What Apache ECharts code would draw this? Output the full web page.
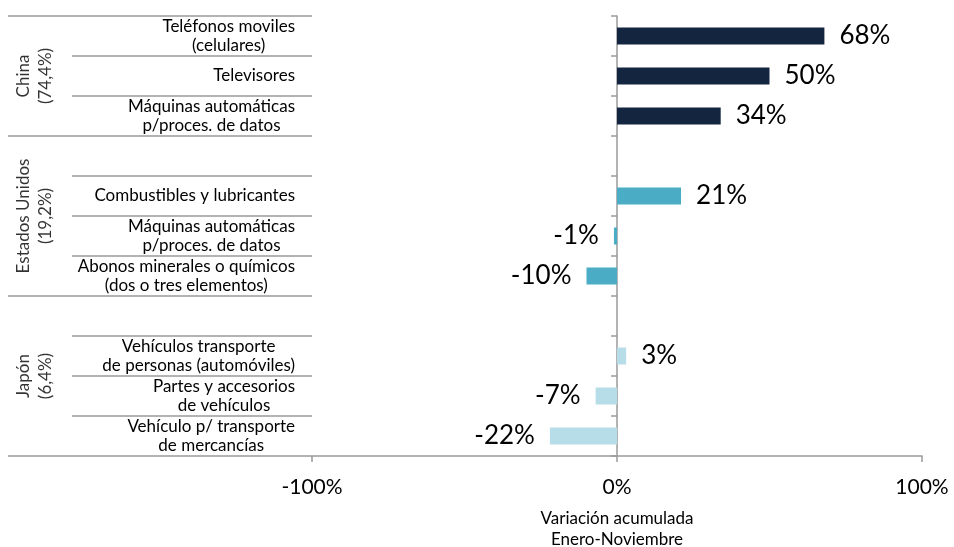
<!DOCTYPE html>
<html>
<head>
<meta charset="utf-8">
<script src="https://cdn.jsdelivr.net/npm/echarts@6/dist/echarts.min.js"></script>
<style>
  html, body { margin: 0; padding: 0; background: #fff; }
  #chart { width: 954px; height: 547px; }
</style>
</head>
<body>
<div id="chart"></div>
<script>
// ---- data ----
var categories = [
  "Teléfonos moviles\n(celulares)",
  "Televisores",
  "Máquinas automáticas\np/proces. de datos",
  "",
  "Combustibles y lubricantes",
  "Máquinas automáticas\np/proces. de datos",
  "Abonos minerales o químicos\n(dos o tres elementos)",
  "",
  "Vehículos transporte\nde personas (automóviles)",
  "Partes y accesorios\nde vehículos",
  "Vehículo p/ transporte\nde mercancías"
];
var groupNames = ["China\n(74,4%)", "Estados Unidos\n(19,2%)", "Japón\n(6,4%)"];
var groupSizes = [3, 4, 4];
var chinaValues = [68, 50, 34];
var usValues = [null, 21, -1, -10];
var japanValues = [null, 3, -7, -22];
var groupColors = ["#14263F", "#4BACC6", "#B7DDE8"];
var xTicks = [-100, 0, 100];

var FONT = "Lato, 'DejaVu Sans', sans-serif";
var LINE = "#9a9a9a";

// ---- build series data ----
var groupValues = [chinaValues, usValues, japanValues];
var barData = [];
groupValues.forEach(function (vals, g) {
  vals.forEach(function (v) {
    if (v === null) { barData.push('-'); return; }
    barData.push({
      value: v,
      itemStyle: { color: groupColors[g] },
      label: { position: v >= 0 ? 'right' : 'left' }
    });
  });
});

// group boundaries and centres (in row units)
var bounds = [0];
groupSizes.forEach(function (s) { bounds.push(bounds[bounds.length - 1] + s); });
var groupPoints = groupNames.map(function (n, i) {
  return { value: [0.41, (bounds[i] + bounds[i + 1]) / 2], name: n };
});
var nRows = categories.length;

var chart = echarts.init(document.getElementById('chart'), null, { renderer: 'canvas' });
chart.setOption({
  animation: false,
  textStyle: { fontFamily: FONT },
  grid: [
    { left: 312, width: 610, top: 16, height: 440, outerBoundsMode: 'none', containLabel: false },
    { left: 72, width: 240, top: 16, height: 440, outerBoundsMode: 'none', containLabel: false },
    { left: 8, width: 64, top: 16, height: 440, outerBoundsMode: 'none', containLabel: false }
  ],
  xAxis: [
    {
      gridIndex: 0, type: 'value', min: xTicks[0], max: xTicks[xTicks.length - 1], interval: 100,
      axisLine: { show: true, onZero: false, lineStyle: { color: LINE, width: 1.5 } },
      axisTick: { show: true, inside: false, length: 6, lineStyle: { color: LINE, width: 1.5 } },
      splitLine: { show: false },
      axisLabel: { formatter: '{value}%', fontSize: 21, color: '#000', margin: 21, fontFamily: FONT },
      name: 'Variación acumulada\nEnero-Noviembre',
      nameLocation: 'middle', nameGap: 52,
      nameTextStyle: { fontSize: 17, lineHeight: 21, color: '#000', fontFamily: FONT }
    },
    { gridIndex: 1, type: 'value', min: 0, max: 1, show: false },
    { gridIndex: 2, type: 'value', min: 0, max: 1, show: false }
  ],
  yAxis: [
    {
      gridIndex: 0, type: 'category', inverse: true, data: categories,
      axisLine: { show: true, onZero: true, lineStyle: { color: LINE, width: 1.5 } },
      axisTick: { show: true, inside: false, length: 6, lineStyle: { color: LINE, width: 1.5 } },
      axisLabel: { show: false },
      splitLine: { show: false }
    },
    {
      gridIndex: 0, type: 'category', inverse: true, data: categories, position: 'left',
      axisLine: { show: false, onZero: false },
      axisTick: { show: false },
      splitLine: { show: false },
      axisLabel: {
        show: true, interval: 0, margin: 17, align: 'right',
        formatter: function (val, idx) {
          var s = categories[idx];
          if (!s) return '';
          return s.split('\n').map(function (l) { return '{c|' + l + '}'; }).join('\n');
        },
        rich: { c: { align: 'center', fontSize: 17, lineHeight: 19, color: '#000', fontFamily: FONT } }
      }
    },
    {
      gridIndex: 1, type: 'value', inverse: true, min: 0, max: nRows, interval: 1,
      axisLine: { show: false }, axisTick: { show: false }, axisLabel: { show: false },
      splitLine: { show: true, lineStyle: { color: LINE, width: 1.5 } }
    },
    {
      gridIndex: 2, type: 'value', inverse: true, min: 0, max: nRows,
      axisLine: { show: false }, axisTick: { show: false }, axisLabel: { show: false },
      splitLine: { show: false }
    }
  ],
  series: [
    {
      type: 'bar', xAxisIndex: 0, yAxisIndex: 0, data: barData, barWidth: 17,
      label: {
        show: true, distance: 15, fontSize: 26, color: '#000', fontFamily: FONT,
        formatter: function (p) { return p.value + '%'; }
      }
    },
    {
      type: 'scatter', xAxisIndex: 2, yAxisIndex: 3, symbolSize: 0, silent: true,
      data: groupPoints,
      label: {
        show: true, position: 'inside', rotate: 90, align: 'center', verticalAlign: 'middle',
        formatter: function (p) { return p.name; },
        fontSize: 17, lineHeight: 22, color: '#000', fontFamily: FONT
      },
      markLine: {
        silent: true, symbol: 'none', label: { show: false },
        lineStyle: { color: LINE, width: 1.5, type: 'solid' },
        data: bounds.map(function (b) { return { yAxis: b }; })
      }
    }
  ]
});
</script>
</body>
</html>
